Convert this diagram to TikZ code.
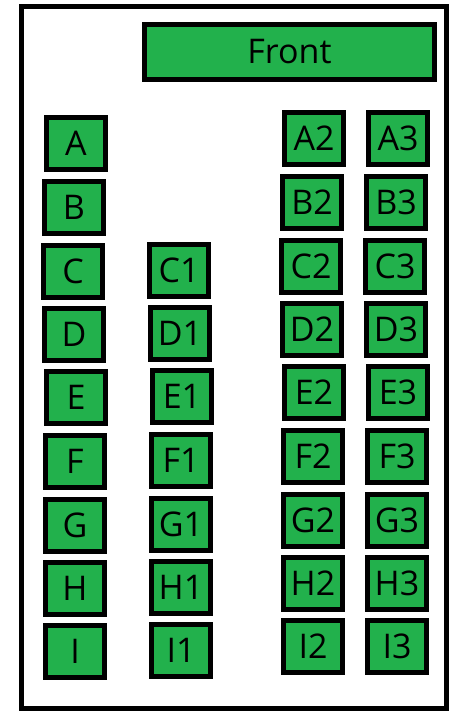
\documentclass[tikz,border=0pt]{standalone}
\usepackage{fontspec}
\setmainfont{Open Sans}
\definecolor{seatgreen}{RGB}{34,177,76}
\begin{document}
\begin{tikzpicture}[x=1pt,y=-1pt,
  seat/.style={draw=black,fill=seatgreen,line width=5pt,minimum width=59pt,minimum height=52pt,inner sep=0pt,font=\fontsize{34}{40}\selectfont,text=black},
  frontbox/.style={seat,minimum width=290pt,minimum height=55pt}]
\useasboundingbox (0,0) rectangle (457,728);
\node[draw=black,line width=5pt,minimum width=425pt,minimum height=701.8pt,inner sep=0pt] (frame) at (234,357.4) {};
\node[frontbox] (front) at (289.5,52) {Front};
% column 1
\node[seat] (A) at (76,143.5) {A};
\node[seat] (B) at (74,207.5) {B};
\node[seat] (C) at (73,271.5) {C};
\node[seat] (D) at (74,334.5) {D};
\node[seat] (E) at (76,397.5) {E};
\node[seat] (F) at (75,461.5) {F};
\node[seat] (G) at (75,525.5) {G};
\node[seat] (H) at (75,588.5) {H};
\node[seat] (I) at (75,651.5) {I};
% column 2
\node[seat] (C1) at (179,270.5) {C1};
\node[seat] (D1) at (180,333.5) {D1};
\node[seat] (E1) at (182,396.5) {E1};
\node[seat] (F1) at (181,460.5) {F1};
\node[seat] (G1) at (181,524.5) {G1};
\node[seat] (H1) at (181,587.5) {H1};
\node[seat] (I1) at (181,650.5) {I1};
% column 3
\node[seat] (A2) at (314,138.5) {A2};
\node[seat] (B2) at (312,202.5) {B2};
\node[seat] (C2) at (311,266.5) {C2};
\node[seat] (D2) at (312,329.5) {D2};
\node[seat] (E2) at (314,392.5) {E2};
\node[seat] (F2) at (313,456.5) {F2};
\node[seat] (G2) at (313,520.5) {G2};
\node[seat] (H2) at (313,583.5) {H2};
\node[seat] (I2) at (313,646.5) {I2};
% column 4
\node[seat] (A3) at (398,138.5) {A3};
\node[seat] (B3) at (396,202.5) {B3};
\node[seat] (C3) at (395,266.5) {C3};
\node[seat] (D3) at (396,329.5) {D3};
\node[seat] (E3) at (398,392.5) {E3};
\node[seat] (F3) at (397,456.5) {F3};
\node[seat] (G3) at (397,520.5) {G3};
\node[seat] (H3) at (397,583.5) {H3};
\node[seat] (I3) at (397,646.5) {I3};
\end{tikzpicture}
\end{document}
